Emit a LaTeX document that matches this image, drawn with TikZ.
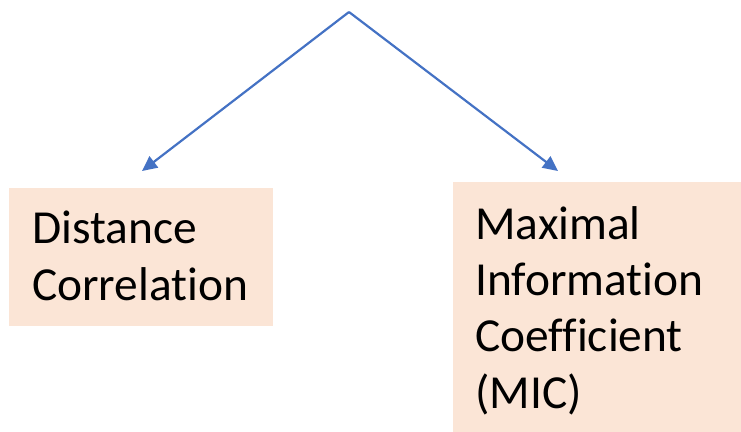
\documentclass[tikz,border=0pt]{standalone}
\usepackage{fontspec}
\setmainfont{Carlito}[Ligatures=NoCommon]
\usetikzlibrary{arrows.meta}
\definecolor{boxfill}{HTML}{FBE5D6}
\definecolor{arrowblue}{HTML}{4472C4}
\begin{document}
\begin{tikzpicture}[x=1pt,y=-1pt,
  box/.style={draw=none,fill=boxfill,rectangle,anchor=north west,inner sep=0pt},
  label/.style={anchor=base west,align=left,inner sep=0pt,font=\fontsize{47.4}{56.3}\selectfont},
  conn/.style={draw=arrowblue,line width=2.2pt,-{Triangle[length=15pt,width=14pt]}}]
\useasboundingbox (0,0) rectangle (741,431);
\node[box,minimum width=264pt,minimum height=138pt] (L) at (9,188) {};
\node[box,minimum width=288pt,minimum height=250pt] (R) at (453,182) {};
\node[label] (Lt) at (32,300) {Distance\\Correlation};
\node[label] (Rt) at (475,408) {Maximal\\Information\\Coefficient\\(MIC)};
\coordinate (apex) at (349,12);
\coordinate (lt) at (142,171);
\coordinate (rt) at (558,171);
\draw[conn] (apex) -- (lt);
\draw[conn] (apex) -- (rt);
\end{tikzpicture}
\end{document}
